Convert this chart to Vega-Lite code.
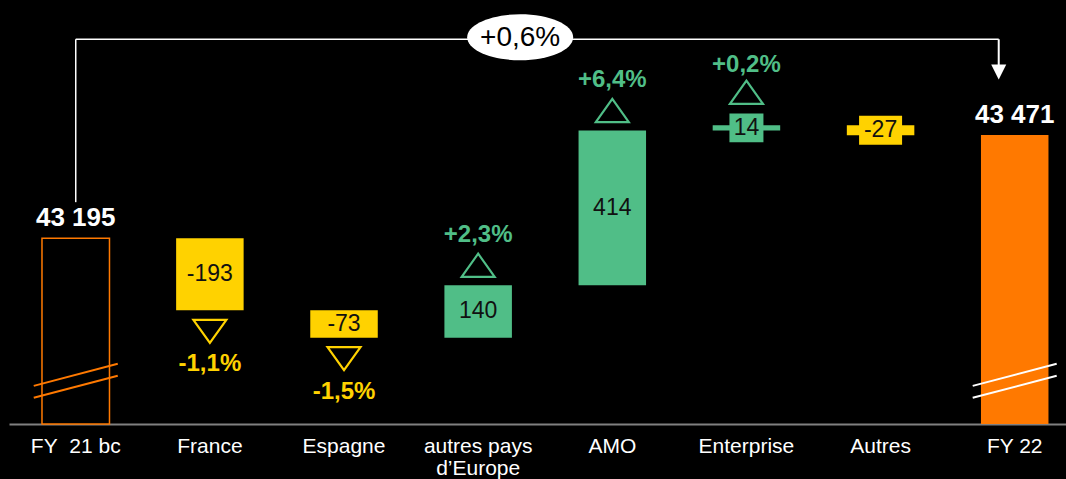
{
  "$schema": "https://vega.github.io/schema/vega-lite/v6.json",
  "autosize": {"type": "none"},
  "width": 1057,
  "height": 424,
  "padding": {"left": 9, "top": 0, "right": 0, "bottom": 55},
  "background": "#000000",
  "config": {"view": {"stroke": null}, "font": "Liberation Sans"},
  "datasets": {
    "bars": [
      {"cat": "FY\u00a0 21 bc", "start": null, "end": 43195, "kind": "start", "label": "43 195", "pct": null},
      {"cat": "France", "start": 43195, "end": 43002, "kind": "down", "label": "-193", "pct": "-1,1%"},
      {"cat": "Espagne", "start": 43002, "end": 42929, "kind": "down", "label": "-73", "pct": "-1,5%"},
      {"cat": "autres pays d’Europe", "start": 42929, "end": 43069, "kind": "up", "label": "140", "pct": "+2,3%"},
      {"cat": "AMO", "start": 43069, "end": 43483, "kind": "up", "label": "414", "pct": "+6,4%"},
      {"cat": "Enterprise", "start": 43483, "end": 43497, "kind": "up", "label": "14", "pct": "+0,2%"},
      {"cat": "Autres", "start": 43497, "end": 43470, "kind": "down", "label": "-27", "pct": null},
      {"cat": "FY 22", "start": null, "end": 43471, "kind": "end", "label": "43 471", "pct": null}
    ],
    "cmp": [
      {"from": "FY\u00a0 21 bc", "to": "FY 22", "change": "+0,6%"}
    ]
  },
  "data": {"name": "bars"},
  "layer": [
    {
      "transform": [{"filter": "datum.kind === 'start'"}],
      "mark": {"type": "bar", "fill": "#000000", "stroke": "#FF7900", "strokeWidth": 1.5},
      "encoding": {
        "x": {
          "field": "cat", "type": "nominal", "sort": null,
          "scale": {
            "domain": ["FY\u00a0 21 bc", "France", "Espagne", "autres pays d’Europe", "AMO", "Enterprise", "Autres", "FY 22"],
            "paddingInner": 0.4968, "paddingOuter": 0.1883, "align": 0.653
          },
          "axis": {
            "title": null, "orient": "bottom", "labelAngle": 0, "grid": false,
            "domainColor": "#808080", "domainWidth": 2,
            "ticks": false, "tickSize": 0,
            "labelColor": "#FFFFFF", "labelFont": "Liberation Sans", "labelFontSize": 21,
            "labelPadding": 11, "labelLineHeight": 22, "labelOverlap": false,
            "labelExpr": "datum.value === 'autres pays d’Europe' ? ['autres pays', 'd’Europe'] : datum.label"
          }
        },
        "y": {
          "field": "end", "type": "quantitative",
          "scale": {"domain": [42698, 43832], "zero": false, "nice": false},
          "axis": null
        },
        "y2": {"datum": 42698}
      }
    },
    {
      "transform": [{"filter": "datum.kind === 'end'"}],
      "mark": {"type": "bar", "fill": "#FF7900"},
      "encoding": {
        "x": {"field": "cat", "type": "nominal", "sort": null},
        "y": {"field": "end", "type": "quantitative"},
        "y2": {"datum": 42698}
      }
    },
    {
      "transform": [{"filter": "datum.kind === 'up' || datum.kind === 'down'"}],
      "mark": {"type": "bar"},
      "encoding": {
        "x": {"field": "cat", "type": "nominal", "sort": null},
        "y": {"field": "start", "type": "quantitative"},
        "y2": {"field": "end"},
        "fill": {"field": "kind", "type": "nominal", "scale": {"domain": ["up", "down"], "range": ["#50BE87", "#FFD200"]}, "legend": null}
      }
    },
    {
      "transform": [
        {"filter": "datum.kind === 'up' && abs(datum.end - datum.start) < 30"},
        {"calculate": "(datum.start + datum.end) / 2", "as": "mid"}
      ],
      "mark": {"type": "point", "filled": true, "opacity": 1, "strokeWidth": 0, "shape": "M-1,-0.85 L1,-0.85 L1,0.85 L-1,0.85 Z", "size": 1156},
      "encoding": {
        "x": {"field": "cat", "type": "nominal", "sort": null},
        "y": {"field": "mid", "type": "quantitative"},
        "fill": {"field": "kind", "type": "nominal", "legend": null}
      }
    },
    {
      "transform": [
        {"filter": "datum.kind === 'down' && abs(datum.end - datum.start) < 30"},
        {"calculate": "(datum.start + datum.end) / 2", "as": "mid"}
      ],
      "mark": {"type": "point", "filled": true, "opacity": 1, "strokeWidth": 0, "shape": "M-1,-0.674 L1,-0.674 L1,0.674 L-1,0.674 Z", "size": 1849},
      "encoding": {
        "x": {"field": "cat", "type": "nominal", "sort": null},
        "y": {"field": "mid", "type": "quantitative"},
        "fill": {"field": "kind", "type": "nominal", "legend": null}
      }
    },
    {
      "transform": [
        {"filter": "datum.kind === 'up' || datum.kind === 'down'"},
        {"calculate": "(datum.start + datum.end) / 2", "as": "mid"}
      ],
      "mark": {"type": "text", "fontSize": 23, "fill": "#111111", "baseline": "middle", "align": "center"},
      "encoding": {
        "x": {"field": "cat", "type": "nominal", "sort": null},
        "y": {"field": "mid", "type": "quantitative"},
        "text": {"field": "label"}
      }
    },
    {
      "transform": [{"filter": "datum.kind === 'start' || datum.kind === 'end'"}],
      "mark": {"type": "text", "fontSize": 26, "fontWeight": "bold", "fill": "#FFFFFF", "baseline": "alphabetic", "align": "center", "yOffset": -12},
      "encoding": {
        "x": {"field": "cat", "type": "nominal", "sort": null},
        "y": {"field": "end", "type": "quantitative"},
        "text": {"field": "label"}
      }
    },
    {
      "transform": [{"filter": "datum.kind === 'up' && abs(datum.end - datum.start) >= 30"}],
      "mark": {"type": "point", "filled": false, "opacity": 1, "strokeWidth": 2.2, "shape": "M0,-0.7 L1,0.7 L-1,0.7 Z", "size": 1089, "yOffset": -20},
      "encoding": {
        "x": {"field": "cat", "type": "nominal", "sort": null},
        "y": {"field": "end", "type": "quantitative"},
        "stroke": {"field": "kind", "type": "nominal", "scale": {"domain": ["up", "down"], "range": ["#50BE87", "#FFD200"]}, "legend": null}
      }
    },
    {
      "transform": [{"filter": "datum.kind === 'up' && abs(datum.end - datum.start) >= 30"}],
      "mark": {"type": "text", "fontSize": 24, "fontWeight": "bold", "baseline": "alphabetic", "align": "center", "yOffset": -43},
      "encoding": {
        "x": {"field": "cat", "type": "nominal", "sort": null},
        "y": {"field": "end", "type": "quantitative"},
        "text": {"field": "pct"},
        "fill": {"field": "kind", "type": "nominal", "legend": null}
      }
    },
    {
      "transform": [{"filter": "datum.kind === 'up' && abs(datum.end - datum.start) < 30"}],
      "mark": {"type": "point", "filled": false, "opacity": 1, "strokeWidth": 2.2, "shape": "M0,-0.7 L1,0.7 L-1,0.7 Z", "size": 1089, "yOffset": -33},
      "encoding": {
        "x": {"field": "cat", "type": "nominal", "sort": null},
        "y": {"field": "end", "type": "quantitative"},
        "stroke": {"field": "kind", "type": "nominal", "legend": null}
      }
    },
    {
      "transform": [{"filter": "datum.kind === 'up' && abs(datum.end - datum.start) < 30"}],
      "mark": {"type": "text", "fontSize": 24, "fontWeight": "bold", "baseline": "alphabetic", "align": "center", "yOffset": -53},
      "encoding": {
        "x": {"field": "cat", "type": "nominal", "sort": null},
        "y": {"field": "end", "type": "quantitative"},
        "text": {"field": "pct"},
        "fill": {"field": "kind", "type": "nominal", "legend": null}
      }
    },
    {
      "transform": [{"filter": "datum.kind === 'down' && datum.pct != null"}],
      "mark": {"type": "point", "filled": false, "opacity": 1, "strokeWidth": 2.2, "shape": "M-1,-0.7 L1,-0.7 L0,0.7 Z", "size": 1089, "yOffset": 21},
      "encoding": {
        "x": {"field": "cat", "type": "nominal", "sort": null},
        "y": {"field": "end", "type": "quantitative"},
        "stroke": {"field": "kind", "type": "nominal", "legend": null}
      }
    },
    {
      "transform": [{"filter": "datum.kind === 'down' && datum.pct != null"}],
      "mark": {"type": "text", "fontSize": 24, "fontWeight": "bold", "baseline": "alphabetic", "align": "center", "yOffset": 61},
      "encoding": {
        "x": {"field": "cat", "type": "nominal", "sort": null},
        "y": {"field": "end", "type": "quantitative"},
        "text": {"field": "pct"},
        "fill": {"field": "kind", "type": "nominal", "legend": null}
      }
    },
    {
      "transform": [{"filter": "datum.kind === 'start' || datum.kind === 'end'"}],
      "mark": {"type": "rule", "strokeWidth": 2, "xOffset": -42, "x2Offset": 42},
      "encoding": {
        "x": {"field": "cat", "type": "nominal", "sort": null},
        "x2": {"field": "cat"},
        "y": {"datum": 42800, "type": "quantitative"},
        "y2": {"datum": 42859},
        "stroke": {"condition": {"test": "datum.kind === 'start'", "value": "#FF7900"}, "value": "#FFFFFF"}
      }
    },
    {
      "transform": [{"filter": "datum.kind === 'start' || datum.kind === 'end'"}],
      "mark": {"type": "rule", "strokeWidth": 2, "xOffset": -42, "x2Offset": 42},
      "encoding": {
        "x": {"field": "cat", "type": "nominal", "sort": null},
        "x2": {"field": "cat"},
        "y": {"datum": 42768, "type": "quantitative"},
        "y2": {"datum": 42827},
        "stroke": {"condition": {"test": "datum.kind === 'start'", "value": "#FF7900"}, "value": "#FFFFFF"}
      }
    },
    {
      "transform": [{"filter": "datum.kind === 'start'"}],
      "mark": {"type": "rule", "strokeWidth": 1.5, "stroke": "#FFFFFF", "yOffset": -36},
      "encoding": {
        "x": {"field": "cat", "type": "nominal", "sort": null},
        "y": {"field": "end", "type": "quantitative"},
        "y2": {"datum": 43727}
      }
    },
    {
      "data": {"name": "cmp"},
      "mark": {"type": "rule", "strokeWidth": 1.5, "stroke": "#FFFFFF", "x2Offset": -16},
      "encoding": {
        "x": {"field": "from", "type": "nominal", "sort": null},
        "x2": {"field": "to"},
        "y": {"datum": 43727, "type": "quantitative"},
        "y2": {"datum": 43727}
      }
    },
    {
      "transform": [{"filter": "datum.kind === 'end'"}],
      "mark": {"type": "rule", "strokeWidth": 2, "stroke": "#FFFFFF", "xOffset": -16, "yOffset": -68},
      "encoding": {
        "x": {"field": "cat", "type": "nominal", "sort": null},
        "y": {"field": "end", "type": "quantitative"},
        "y2": {"datum": 43727}
      }
    },
    {
      "transform": [{"filter": "datum.kind === 'end'"}],
      "mark": {"type": "point", "filled": true, "opacity": 1, "fill": "#FFFFFF", "strokeWidth": 0, "shape": "M-1,-1 L1,-1 L0,1 Z", "size": 225, "xOffset": -16, "yOffset": -63},
      "encoding": {
        "x": {"field": "cat", "type": "nominal", "sort": null},
        "y": {"field": "end", "type": "quantitative"}
      }
    },
    {
      "data": {"name": "cmp"},
      "mark": {"type": "point", "filled": true, "opacity": 1, "fill": "#FFFFFF", "strokeWidth": 0,
        "shape": "M-1,0 C-1,-0.24 -0.5523,-0.434 0,-0.434 C0.5523,-0.434 1,-0.24 1,0 C1,0.24 0.5523,0.434 0,0.434 C-0.5523,0.434 -1,0.24 -1,0 Z",
        "size": 11236, "xOffset": 42, "yOffset": -2},
      "encoding": {
        "x": {"datum": "autres pays d’Europe", "type": "nominal"},
        "y": {"datum": 43727, "type": "quantitative"}
      }
    },
    {
      "data": {"name": "cmp"},
      "mark": {"type": "text", "fontSize": 28, "fill": "#000000", "baseline": "alphabetic", "align": "center", "xOffset": 42, "yOffset": 7},
      "encoding": {
        "x": {"datum": "autres pays d’Europe", "type": "nominal"},
        "y": {"datum": 43727, "type": "quantitative"},
        "text": {"field": "change"}
      }
    }
  ]
}
